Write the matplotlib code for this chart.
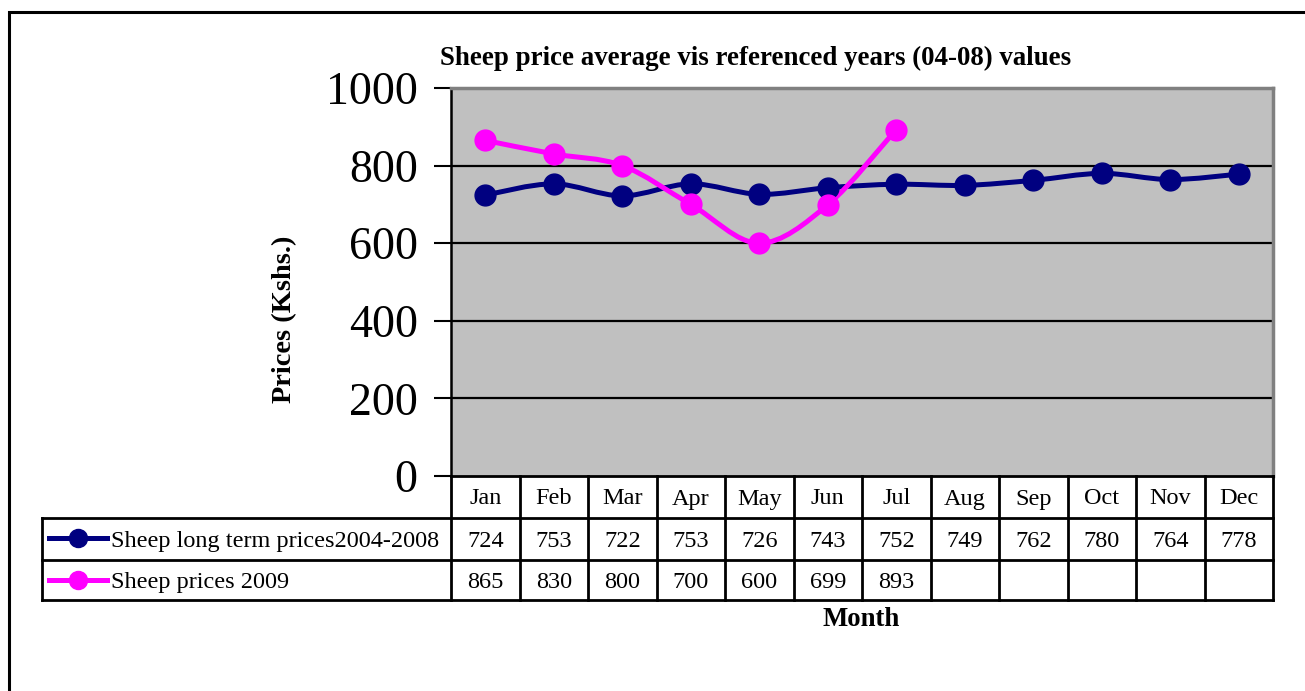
import matplotlib
matplotlib.use("Agg")
import matplotlib.pyplot as plt
from matplotlib.path import Path
from matplotlib.patches import PathPatch, Rectangle
from matplotlib.lines import Line2D
import matplotlib.transforms as mtransforms

# data
months = ['Jan', 'Feb', 'Mar', 'Apr', 'May', 'Jun', 'Jul', 'Aug', 'Sep', 'Oct', 'Nov', 'Dec']
long_term = [724, 753, 722, 753, 726, 743, 752, 749, 762, 780, 764, 778]
prices_2009 = [865, 830, 800, 700, 600, 699, 893]
series_names = ['Sheep long term prices2004-2008', 'Sheep prices 2009']
series_colors = ['#000080', '#FF00FF']
yticks = [0, 200, 400, 600, 800, 1000]

plt.rcParams['font.family'] = ['Liberation Serif', 'DejaVu Serif']

W, H = 1305, 691
fig = plt.figure(figsize=(W / 100, H / 100), dpi=100)

def fx(px):
    return px / W

def fy(py):
    return 1 - py / H

# plot area in pixels
L, R, T, B = 451, 1273, 88, 476
ax = fig.add_axes([fx(L), fy(B), fx(R) - fx(L), fy(T) - fy(B)])
ax.set_facecolor('#C0C0C0')
ax.set_xlim(-0.5, 11.5)
ax.set_ylim(0, 1000)
ax.set_yticks(yticks)
ax.set_yticklabels([str(v) for v in yticks], fontsize=33)
ax.set_xticks([])
ax.tick_params(axis='y', direction='out', length=12, width=1.5, pad=12, colors='black')
for y in yticks[1:-1]:
    ax.axhline(y, color='black', lw=1.6, zorder=1)
ax.spines['left'].set_color('black')
ax.spines['left'].set_linewidth(1.8)
ax.spines['bottom'].set_visible(False)
for s in ['top', 'right']:
    ax.spines[s].set_color('#808080')
    ax.spines[s].set_linewidth(2.5)


def smooth_path(xs, ys):
    # bezier curve through the points, like a smoothed spreadsheet line
    pts = list(zip(xs, ys))
    verts = [pts[0]]
    codes = [Path.MOVETO]
    n = len(pts)
    for i in range(n - 1):
        p0 = pts[i - 1] if i > 0 else pts[i]
        p1 = pts[i]
        p2 = pts[i + 1]
        p3 = pts[i + 2] if i + 2 < n else pts[i + 1]
        c1 = (p1[0] + (p2[0] - p0[0]) / 6, p1[1] + (p2[1] - p0[1]) / 6)
        c2 = (p2[0] - (p3[0] - p1[0]) / 6, p2[1] - (p3[1] - p1[1]) / 6)
        verts += [c1, c2, p2]
        codes += [Path.CURVE4] * 3
    return Path(verts, codes)


all_series = [long_term, prices_2009]
for vals, col in zip(all_series, series_colors):
    xs = list(range(len(vals)))
    ax.add_patch(PathPatch(smooth_path(xs, vals), facecolor='none', edgecolor=col,
                           lw=3.6, zorder=3, capstyle='round', joinstyle='round'))
    ax.plot(xs, vals, 'o', color=col, ms=15, zorder=4)

# data table below the plot area
row_h = 42
lw_t = 2.0
tfs = 17.5
tr = mtransforms.blended_transform_factory(ax.transData, fig.transFigure)
for k in range(13):
    x = k - 0.5
    fig.add_artist(Line2D([x, x], [fy(B), fy(600)], transform=tr, color='black', lw=lw_t))
for py in [B, B + row_h, B + 2 * row_h, 600]:
    x0 = fx(L) if py == B else fx(42)
    fig.add_artist(Line2D([x0, fx(R)], [fy(py), fy(py)], color='black', lw=lw_t))
fig.add_artist(Line2D([fx(42), fx(42)], [fy(B + row_h), fy(600)], color='black', lw=lw_t))

for i, m in enumerate(months):
    fig.text(i, fy(B + row_h / 2 + 2), m, transform=tr, ha='center', va='center', fontsize=tfs)
for r, vals in enumerate(all_series):
    yc = fy(B + row_h * (r + 1) + (row_h if r == 0 else 40) / 2 + 2.5)
    for i, v in enumerate(vals):
        fig.text(i, yc, str(v), transform=tr, ha='center', va='center', fontsize=tfs)
    # legend key
    ykey = fy(B + row_h * (r + 1) + 20)
    fig.add_artist(Line2D([fx(49), fx(107)], [ykey, ykey], color=series_colors[r], lw=3.6))
    fig.add_artist(Line2D([fx(78)], [ykey], marker='o', color=series_colors[r], ms=13))
    fig.text(fx(111), yc, series_names[r], ha='left', va='center', fontsize=tfs)

fig.text(fx(756), fy(58), 'Sheep price average vis referenced years (04-08) values',
         ha='center', va='center', fontsize=19.4, fontweight='bold')
fig.text(fx(861), fy(620), 'Month', ha='center', va='center', fontsize=19.3, fontweight='bold')
fig.text(fx(285), fy(319), 'Prices (Kshs.)', ha='center', va='center', rotation=90,
         fontsize=20.4, fontweight='bold')

# outer chart frame
fig.add_artist(Rectangle((fx(9), fy(712)), fx(1330) - fx(9), fy(12) - fy(712),
                         fill=False, edgecolor='black', lw=2.2))

fig.savefig('out.png', dpi=100, facecolor='white')
